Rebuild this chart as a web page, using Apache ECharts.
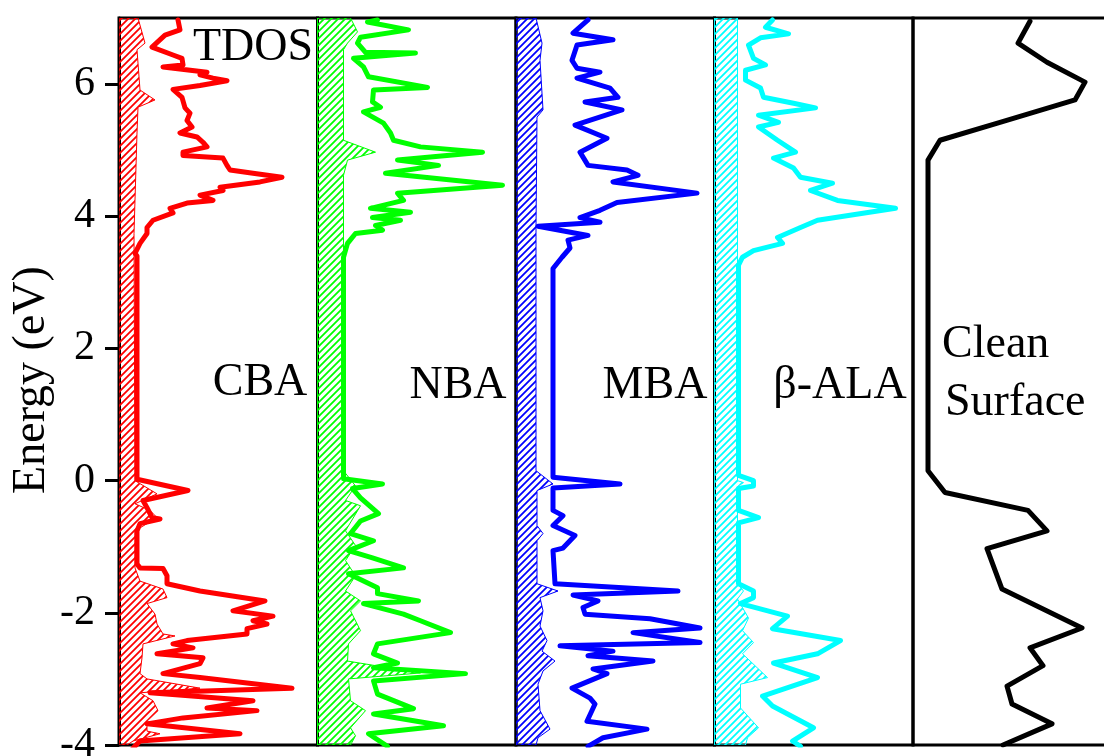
<!DOCTYPE html>
<html><head><meta charset="utf-8">
<script src="https://cdn.jsdelivr.net/npm/echarts@6/dist/echarts.min.js"></script>
<style>html,body{margin:0;padding:0;background:#fff}#c{width:1104px;height:756px}</style>
</head><body><div id="c"></div>
<script>
// ---- data: [DOS (arb. units), Energy (eV)] ----
const panelNames = ['CBA', 'NBA', 'MBA', 'β-ALA', 'Clean Surface'];
const panelColors = ['#ff0000', '#00ff00', '#0000ff', '#00ffff', '#000000'];
const energyTicks = [-4, -2, 0, 2, 4, 6];

const cbaTdos = [[59,6.97],[61,6.82],[46,6.74],[33,6.56],[54,6.44],[63,6.39],[64,6.29],[44,6.26],[88,6.18],[81,6.14],[94,6.09],[108,6.05],[81,5.98],[54,5.92],[63,5.80],[66,5.64],[71,5.56],[68,5.45],[73,5.35],[61,5.26],[78,5.20],[84,5.12],[88,5.05],[64,4.97],[64,4.92],[104,4.88],[108,4.77],[111,4.70],[134,4.65],[163,4.59],[141,4.52],[101,4.44],[104,4.39],[81,4.32],[94,4.24],[68,4.20],[51,4.12],[54,4.05],[34,3.94],[28,3.83],[28,3.74],[21,3.59],[16,3.44],[18,3.40],[18,0.02],[69,-0.15],[24,-0.30],[28,-0.41],[33,-0.56],[41,-0.58],[21,-0.65],[18,-0.76],[18,-1.26],[21,-1.32],[44,-1.33],[48,-1.44],[48,-1.56],[81,-1.67],[146,-1.82],[114,-1.97],[154,-2.05],[134,-2.12],[148,-2.17],[128,-2.24],[128,-2.32],[68,-2.42],[54,-2.47],[74,-2.53],[38,-2.62],[84,-2.68],[81,-2.77],[44,-2.92],[81,-2.98],[173,-3.14],[31,-3.21],[134,-3.33],[88,-3.44],[138,-3.48],[64,-3.59],[28,-3.68],[121,-3.83],[21,-3.94],[14,-4.05]];
const cbaPdos = [[19,7.0],[26,6.62],[18,6.52],[21,5.91],[36,5.76],[19,5.65],[18,5.26],[15,3.74],[16,0.0],[38,-0.20],[16,-0.35],[31,-0.45],[38,-0.56],[16,-0.76],[16,-1.32],[21,-1.52],[44,-1.64],[48,-1.77],[28,-1.86],[36,-2.02],[38,-2.17],[44,-2.32],[56,-2.35],[24,-2.47],[23,-2.68],[21,-2.92],[28,-3.00],[81,-3.14],[21,-3.21],[34,-3.33],[39,-3.48],[28,-3.64],[28,-3.79],[41,-3.83],[14,-3.94],[8,-4.0]];

const nbaTdos = [[60,6.97],[50,6.94],[91,6.82],[43,6.71],[40,6.62],[48,6.48],[98,6.47],[36,6.39],[46,6.26],[51,6.11],[110,5.95],[56,5.91],[55,5.73],[63,5.65],[46,5.58],[66,5.41],[73,5.26],[76,5.15],[103,5.05],[165,4.97],[80,4.85],[121,4.77],[68,4.65],[185,4.47],[80,4.35],[86,4.24],[53,4.12],[93,4.06],[55,3.98],[83,3.94],[58,3.86],[65,3.79],[38,3.74],[30,3.59],[26,3.38],[26,0.03],[65,-0.05],[35,-0.12],[43,-0.26],[61,-0.50],[43,-0.61],[33,-0.80],[56,-0.91],[31,-1.06],[55,-1.17],[86,-1.32],[31,-1.41],[60,-1.62],[60,-1.71],[101,-1.82],[46,-1.86],[86,-2.02],[103,-2.12],[133,-2.30],[60,-2.47],[56,-2.62],[80,-2.76],[56,-2.83],[148,-2.92],[56,-3.03],[60,-3.23],[96,-3.45],[56,-3.53],[126,-3.71],[51,-3.83],[70,-4.02]];
const nbaPdos = [[33,7.0],[40,6.79],[30,6.62],[26,6.52],[26,5.15],[58,4.97],[30,4.85],[26,4.62],[26,0.15],[38,-0.08],[28,-0.30],[43,-0.38],[28,-0.76],[38,-0.98],[28,-1.21],[38,-1.44],[28,-1.67],[43,-1.82],[33,-1.97],[43,-2.27],[31,-2.47],[30,-2.73],[103,-2.91],[31,-3.00],[33,-3.33],[48,-3.48],[33,-3.74],[38,-3.86],[33,-4.0]];

const mbaTdos = [[72,6.97],[57,6.77],[97,6.67],[61,6.59],[56,6.36],[61,6.24],[84,6.18],[61,6.09],[94,5.94],[102,5.80],[69,5.73],[106,5.61],[59,5.38],[91,5.18],[64,4.97],[72,4.77],[111,4.70],[122,4.62],[97,4.52],[181,4.35],[101,4.21],[84,4.09],[64,3.98],[84,3.91],[22,3.85],[72,3.71],[52,3.64],[54,3.52],[46,3.38],[37,3.21],[37,0.05],[104,-0.05],[37,-0.11],[37,-0.45],[47,-0.53],[37,-0.68],[59,-0.83],[47,-1.02],[37,-1.06],[39,-1.56],[162,-1.67],[57,-1.73],[82,-1.82],[67,-1.92],[69,-2.02],[134,-2.09],[184,-2.23],[117,-2.30],[184,-2.45],[44,-2.50],[97,-2.58],[72,-2.65],[137,-2.73],[77,-2.85],[91,-2.92],[56,-3.14],[74,-3.29],[79,-3.38],[71,-3.64],[131,-3.76],[87,-3.89],[72,-4.02]];
const mbaPdos = [[20,7.0],[26,6.62],[24,6.36],[27,5.61],[21,5.50],[20,3.85],[20,0.15],[37,-0.05],[21,-0.15],[21,-0.68],[27,-0.80],[21,-0.91],[21,-1.56],[42,-1.67],[24,-1.77],[27,-1.97],[24,-2.20],[31,-2.42],[26,-2.58],[39,-2.73],[27,-2.88],[22,-3.08],[24,-3.48],[34,-3.76],[22,-3.89],[20,-4.0]];

const alaTdos = [[58,6.97],[51,6.86],[74,6.76],[46,6.70],[34,6.59],[39,6.39],[51,6.29],[31,6.21],[31,6.06],[46,5.94],[49,5.80],[79,5.71],[101,5.64],[44,5.53],[64,5.42],[44,5.35],[63,5.15],[81,4.97],[59,4.88],[79,4.73],[86,4.59],[118,4.50],[96,4.39],[123,4.24],[181,4.12],[103,3.94],[86,3.83],[63,3.68],[68,3.59],[39,3.48],[28,3.38],[24,3.26],[24,0.08],[39,0.0],[39,-0.08],[24,-0.12],[24,-0.45],[44,-0.56],[24,-0.64],[24,-1.56],[39,-1.67],[39,-1.77],[26,-1.86],[73,-2.05],[58,-2.24],[126,-2.42],[103,-2.62],[59,-2.76],[103,-2.98],[48,-3.26],[58,-3.41],[99,-3.74],[78,-3.94],[86,-4.02]];
const alaPdos = [[23,7.0],[23,0.0],[29,-0.03],[23,-0.09],[23,-1.56],[29,-1.67],[23,-1.79],[34,-2.08],[28,-2.27],[39,-2.45],[28,-2.62],[53,-2.98],[26,-3.08],[26,-3.44],[44,-3.74],[33,-3.89],[31,-4.0]];

const cleanTdos = [[117,6.95],[105,6.62],[134,6.33],[172,6.03],[162,5.76],[87,5.42],[27,5.15],[15,4.85],[15,0.15],[32,-0.18],[115,-0.45],[134,-0.76],[74,-1.03],[89,-1.64],[169,-2.23],[117,-2.53],[130,-2.80],[94,-3.11],[99,-3.38],[139,-3.68],[90,-4.0]];

const tdosList = [cbaTdos, nbaTdos, mbaTdos, alaTdos, cleanTdos];
const pdosList = [cbaPdos, nbaPdos, mbaPdos, alaPdos, null];

// ---- layout / style ----
const FONT = "'Liberation Serif','Times New Roman',serif";
const PL = 119, PW = 198.5, PT = 18, PH = 727;

function hatch(color) {
  const s = 7;
  const c = document.createElement('canvas');
  c.width = s; c.height = s;
  const g = c.getContext('2d');
  g.strokeStyle = color; g.lineWidth = 1.8;
  g.beginPath();
  g.moveTo(0, s); g.lineTo(s, 0);
  g.moveTo(-1, 1); g.lineTo(1, -1);
  g.moveTo(s - 1, s + 1); g.lineTo(s + 1, s - 1);
  g.stroke();
  return c;
}

const grids = [], xAxes = [], yAxes = [], series = [];
panelNames.forEach((name, i) => {
  grids.push({ left: PL + i * PW, top: PT, width: PW, height: PH, show: true,
    outerBoundsMode: 'none', containLabel: false,
    borderColor: '#000', borderWidth: 3, backgroundColor: 'transparent' });
  xAxes.push({ gridIndex: i, type: 'value', min: 0, max: PW, show: false });
  yAxes.push({ gridIndex: i, type: 'value', min: -4, max: 7, show: i === 0,
    axisLine: { show: true, lineStyle: { color: '#000', width: 3 } },
    axisTick: { show: true, inside: false, length: 14, customValues: energyTicks,
      lineStyle: { color: '#000', width: 3 } },
    axisLabel: { customValues: energyTicks, fontSize: 42, fontFamily: FONT, color: '#000', margin: 24 },
    splitLine: { show: false } });
  const col = panelColors[i];
  const pd = pdosList[i];
  if (pd) {
    const pat = hatch(col);
    series.push({ type: 'custom', xAxisIndex: i, yAxisIndex: i, clip: true, z: 2,
      data: pd,
      renderItem: function (params, api) {
        if (params.dataIndex !== 0) return null;
        const pts = [api.coord([0, pd[0][1]])];
        pd.forEach(p => pts.push(api.coord(p)));
        pts.push(api.coord([0, pd[pd.length - 1][1]]));
        return { type: 'polygon', shape: { points: pts },
          style: { fill: { image: pat, repeat: 'repeat' }, stroke: col, lineWidth: 1 } };
      } });
  }
  series.push({ type: 'line', xAxisIndex: i, yAxisIndex: i, data: tdosList[i], z: 3,
    showSymbol: false, symbol: 'none', clip: true, animation: false,
    lineStyle: { color: col, width: 5, join: 'round', cap: 'round' } });
});

function txt(text, x, y, align, rot) {
  return { type: 'text', x: x, y: y, rotation: rot || 0, z: 10,
    style: { text: text, fontSize: 46, fontFamily: FONT, fill: '#000',
      textAlign: align, textVerticalAlign: 'middle', align: align, verticalAlign: 'middle' } };
}

const chart = echarts.init(document.getElementById('c'), null, { renderer: 'canvas' });
chart.setOption({
  animation: false,
  backgroundColor: '#fff',
  grid: grids, xAxis: xAxes, yAxis: yAxes, series: series,
  graphic: [
    txt('TDOS', 253, 48, 'center'),
    txt(panelNames[0], 260, 383, 'center'),
    txt(panelNames[1], 458, 386, 'center'),
    txt(panelNames[2], 655, 386, 'center'),
    txt(panelNames[3], 840, 386, 'center'),
    txt('Clean', 942, 345, 'left'),
    txt('Surface', 945, 403, 'left'),
    txt('Energy (eV)', 32, 380, 'center', Math.PI / 2)
  ]
});
</script></body></html>
